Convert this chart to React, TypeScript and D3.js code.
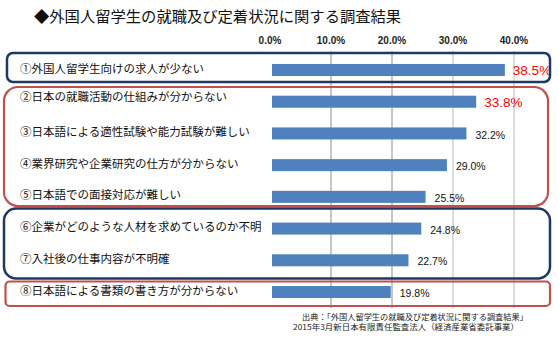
import React from "react";
import * as d3 from "d3";

const categories = [
  "①外国人留学生向けの求人が少ない",
  "②日本の就職活動の仕組みが分からない",
  "③日本語による適性試験や能力試験が難しい",
  "④業界研究や企業研究の仕方が分からない",
  "⑤日本語での面接対応が難しい",
  "⑥企業がどのような人材を求めているのか不明",
  "⑦入社後の仕事内容が不明確",
  "⑧日本語による書類の書き方が分からない",
];
const values = [38.5, 33.8, 32.2, 29.0, 25.5, 24.8, 22.7, 19.8];
const highlighted = [true, true, false, false, false, false, false, false];
const ticks = [0, 10, 20, 30, 40];
const title = "◆外国人留学生の就職及び定着状況に関する調査結果";
const source1 = "出典：「外国人留学生の就職及び定着状況に関する調査結果」";
const source2 = "2015年3月新日本有限責任監査法人（経済産業省委託事業）";

const JP = "'Noto Sans CJK JP', sans-serif";
const NUM = "'Liberation Sans', Arial, sans-serif";

export default function App() {
  const x = d3.scaleLinear().domain([0, 40]).range([270, 514]);
  const y = d3.scalePoint<number>().domain(d3.range(categories.length)).range([70, 292]);
  const bh = 12;
  return (
    <svg width={559} height={342} style={{ position: "absolute", left: 0, top: 0, background: "#fff" }}>
      <text x={34} y={22} fontFamily={JP} fontSize={15.3} fontWeight={400} fill="#111">{title}</text>
      {ticks.map((t) => (
        <g key={t}>
          <text x={x(t)} y={44} textAnchor="middle" fontFamily={NUM} fontSize={10} fontWeight={700} fill="#222">{t.toFixed(1)}%</text>
          {t > 0 && <line x1={x(t)} x2={x(t)} y1={51} y2={308} stroke={t <= 20 ? "#8c8c8c" : "#b8b8b8"} strokeWidth={1} />}
        </g>
      ))}
      {values.map((v, i) => (
        <rect key={i} x={x(0) + 2} y={(y(i) as number) - bh / 2} width={x(v) - x(0) - 2} height={bh} fill="#4f81bd" />
      ))}
      {values.map((v, i) => (
        <text key={"v" + i} x={x(v) + (highlighted[i] ? 8 : 9)} y={(y(i) as number) + (highlighted[i] ? 0.5 : 1.5)} dy="0.35em"
          fontFamily={NUM} fontSize={highlighted[i] ? 13.5 : 10.5} fill={highlighted[i] ? "#ff0000" : "#111"}>
          {v.toFixed(1)}%
        </text>
      ))}
      {categories.map((c, i) => (
        <text key={"c" + i} x={20} y={(y(i) as number) - (i === 1 ? 4.5 : 1.5)} dy="0.35em" fontFamily={JP} fontSize={11.5} fill="#111">{c}</text>
      ))}
      <rect x={7} y={53} width={543} height={29} rx={6} fill="none" stroke="#1f3864" strokeWidth={2.5} />
      <rect x={4} y={87} width={544} height={119} rx={14} fill="none" stroke="#c0504d" strokeWidth={2.2} />
      <rect x={4} y={208.5} width={546} height={70} rx={12} fill="none" stroke="#1f3864" strokeWidth={2.5} />
      <rect x={5.5} y={281.5} width={544.5} height={24.5} rx={4} fill="none" stroke="#c0504d" strokeWidth={2.2} />
      <text x={302} y={320} fontFamily={JP} fontSize={8} textLength={226} lengthAdjust="spacingAndGlyphs" fill="#222">{source1}</text>
      <text x={293} y={330} fontFamily={JP} fontSize={8} textLength={226} lengthAdjust="spacingAndGlyphs" fill="#222">{source2}</text>
    </svg>
  );
}
